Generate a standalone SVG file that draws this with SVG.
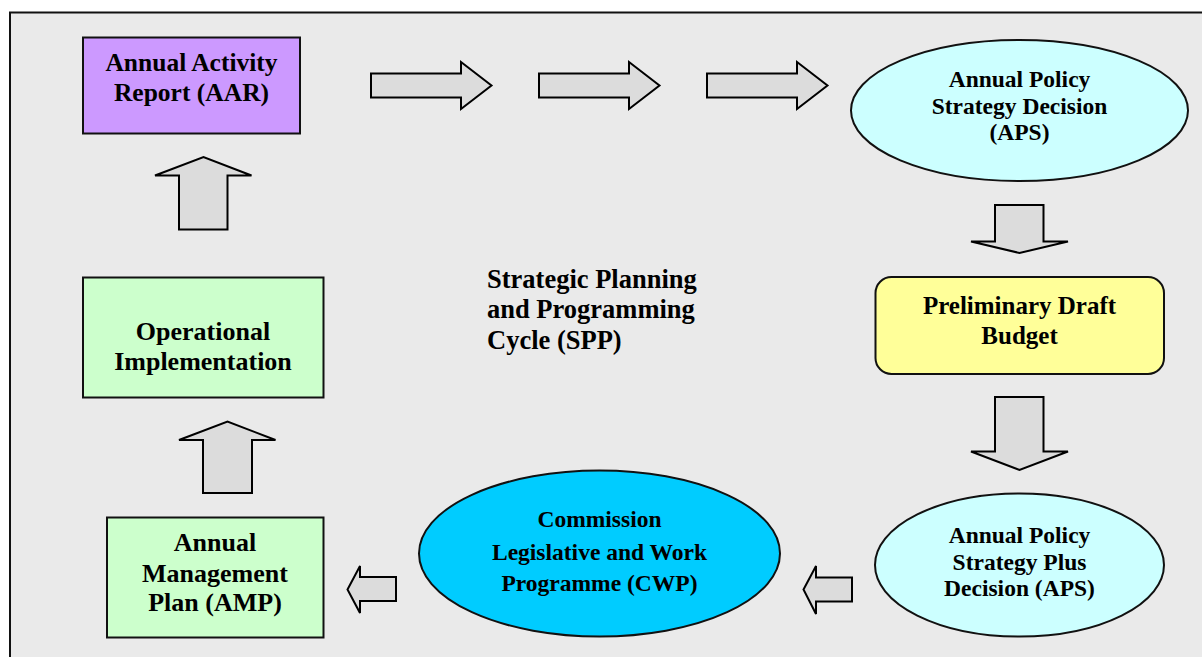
<svg xmlns="http://www.w3.org/2000/svg" width="1202" height="657" viewBox="0 0 1202 657">
<style>
  .t { font-family: "Liberation Serif", "Times New Roman", serif; font-weight: bold; fill: #000; text-anchor: middle; }
  .node { stroke: #111; stroke-width: 2; }
  .arrow { fill: #dcdcdc; stroke: #000; stroke-width: 2; stroke-linejoin: miter; }
</style>
<rect x="0" y="0" width="1202" height="657" fill="#ffffff"/>
<rect id="frame" x="10" y="12.5" width="1200" height="660" fill="#eaeaea" stroke="#111" stroke-width="2"/>

<g id="connectors">
  <polygon class="arrow" points="371,73.5 461,73.5 461,62 491.5,85.5 461,109 461,97.5 371,97.5"/>
  <polygon class="arrow" points="539,73.5 629,73.5 629,62 659.5,85.5 629,109 629,97.5 539,97.5"/>
  <polygon class="arrow" points="707,73.5 797,73.5 797,62 827.5,85.5 797,109 797,97.5 707,97.5"/>
  <polygon class="arrow" points="995,205 1043.5,205 1043.5,241.5 1068,241.5 1019.5,253 971,241.5 995,241.5"/>
  <polygon class="arrow" points="995,397 1043.5,397 1043.5,451.5 1068,451.5 1019.5,470 971,451.5 995,451.5"/>
  <polygon class="arrow" points="852,577.5 852,601.5 816,601.5 816,614 803.5,589.5 816,566 816,577.5"/>
  <polygon class="arrow" points="396,577 396,601 360,601 360,613 347.5,589.5 360,566 360,577"/>
  <polygon class="arrow" points="203,493 252,493 252,440 275.5,440 227.5,421.5 179,440 203,440"/>
  <polygon class="arrow" points="179,229.5 227.5,229.5 227.5,175.5 251.5,175.5 203.5,157 155,175.5 179,175.5"/>
</g>

<g id="aar">
  <rect class="node" x="83" y="37.5" width="217" height="96" fill="#cc99ff"/>
  <text class="t" x="191.5" y="71" font-size="25.5">Annual Activity</text>
  <text class="t" x="191.5" y="101" font-size="25.5">Report (AAR)</text>
</g>

<g id="aps">
  <ellipse class="node" cx="1019.5" cy="110.5" rx="168.5" ry="70.5" fill="#ccffff"/>
  <text class="t" x="1019.5" y="87" font-size="23.5">Annual Policy</text>
  <text class="t" x="1019.5" y="113.5" font-size="23.5">Strategy Decision</text>
  <text class="t" x="1019.5" y="140" font-size="23.5">(APS)</text>
</g>

<g id="pdb">
  <rect class="node" x="875.5" y="277" width="288.5" height="97" rx="16" ry="16" fill="#ffff99"/>
  <text class="t" x="1019.5" y="314" font-size="25">Preliminary Draft</text>
  <text class="t" x="1019.5" y="343.5" font-size="25">Budget</text>
</g>

<g id="apsplus">
  <ellipse class="node" cx="1019.5" cy="565" rx="144.5" ry="71.5" fill="#ccffff"/>
  <text class="t" x="1019.5" y="543" font-size="23.5">Annual Policy</text>
  <text class="t" x="1019.5" y="569.5" font-size="23.5">Strategy Plus</text>
  <text class="t" x="1019.5" y="596" font-size="23.5">Decision (APS)</text>
</g>

<g id="cwp">
  <ellipse class="node" cx="599.5" cy="553.5" rx="180.5" ry="83" fill="#00ccff"/>
  <text class="t" x="599.5" y="527" font-size="23.5">Commission</text>
  <text class="t" x="599.5" y="559.5" font-size="23.5">Legislative and Work</text>
  <text class="t" x="599.5" y="591" font-size="23.5">Programme (CWP)</text>
</g>

<g id="amp">
  <rect class="node" x="107" y="517.5" width="216.5" height="120" fill="#ccffcc"/>
  <text class="t" x="215" y="551" font-size="26">Annual</text>
  <text class="t" x="215" y="582" font-size="26">Management</text>
  <text class="t" x="215" y="610.5" font-size="26">Plan (AMP)</text>
</g>

<g id="opimpl">
  <rect class="node" x="83" y="277.5" width="240.5" height="120" fill="#ccffcc"/>
  <text class="t" x="203" y="340" font-size="26">Operational</text>
  <text class="t" x="203" y="370" font-size="26">Implementation</text>
</g>

<g id="spp">
  <text class="t" style="text-anchor:start" x="487" y="287.5" font-size="26.5">Strategic Planning</text>
  <text class="t" style="text-anchor:start" x="487" y="318" font-size="26.5">and Programming</text>
  <text class="t" style="text-anchor:start" x="487" y="348.5" font-size="26.5">Cycle (SPP)</text>
</g>
</svg>
